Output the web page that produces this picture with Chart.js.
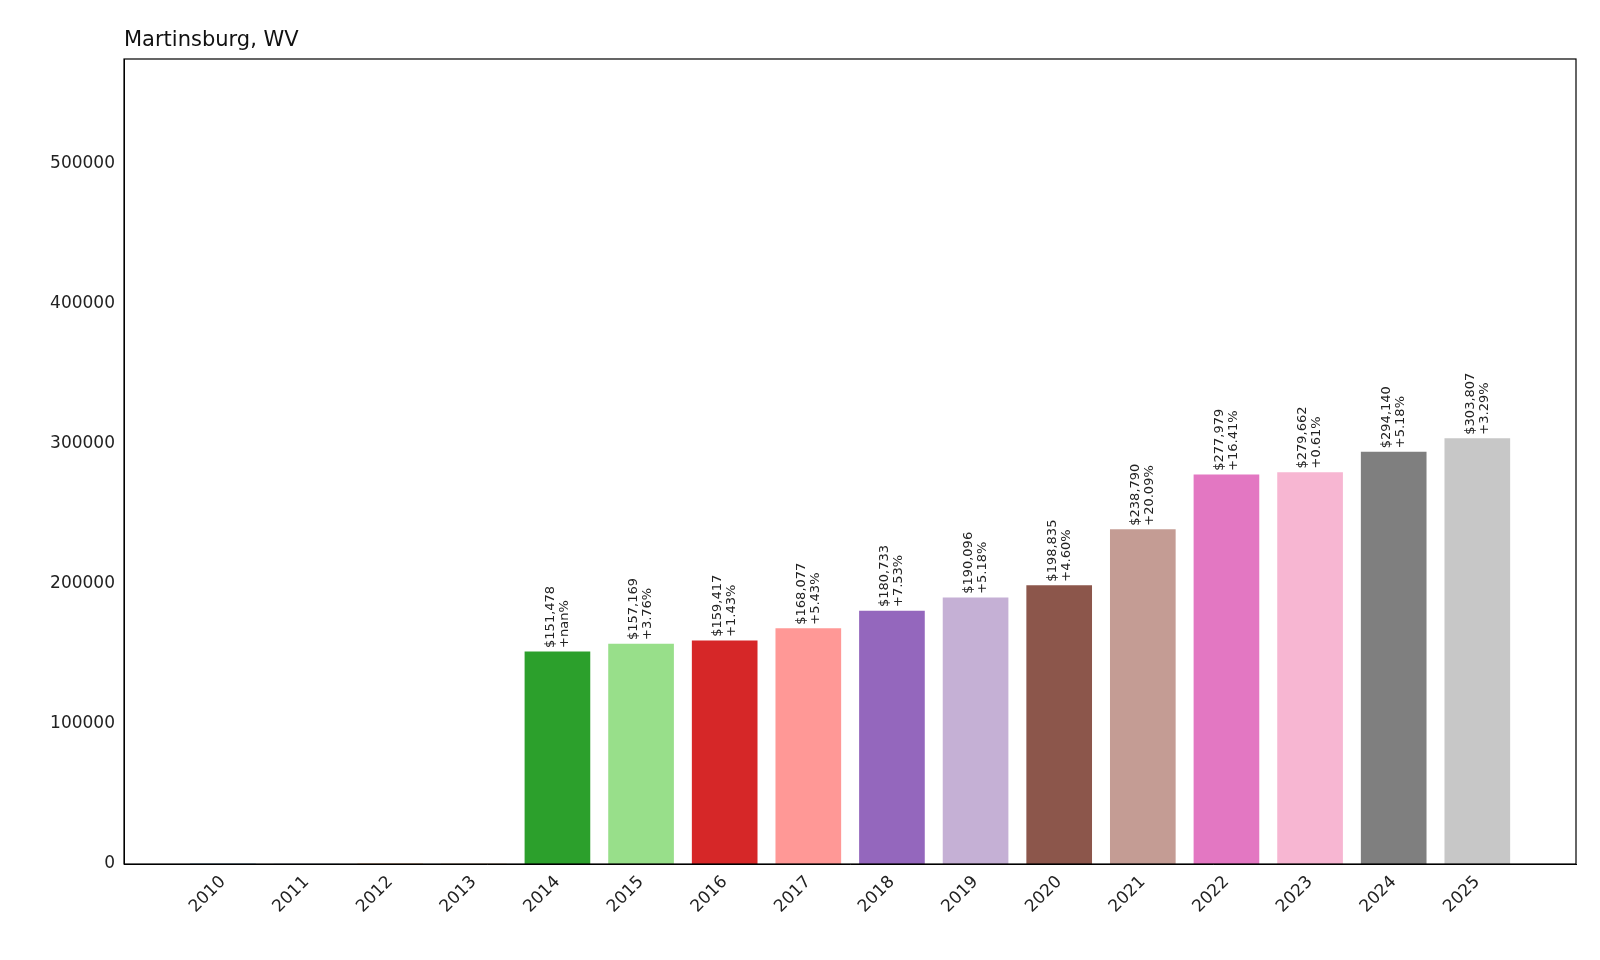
<!DOCTYPE html>
<html><head><meta charset="utf-8">
<script src="https://cdn.jsdelivr.net/npm/chart.js@4"></script>
<style>html,body{margin:0;padding:0;background:#fff}#w{width:1600px;height:960px}</style>
</head><body><div id="w"><canvas id="c"></canvas></div>
<script>
const years = [2010,2011,2012,2013,2014,2015,2016,2017,2018,2019,2020,2021,2022,2023,2024,2025];
const values = [0,0,0,0,151478,157169,159417,168077,180733,190096,198835,238790,277979,279662,294140,303807];
const changes = ["","","","","+nan%","+3.76%","+1.43%","+5.43%","+7.53%","+5.18%","+4.60%","+20.09%","+16.41%","+0.61%","+5.18%","+3.29%"];
const colors = ["#1f77b4","#aec7e8","#ff7f0e","#ffbb78","#2ca02c","#98df8a","#d62728","#ff9896","#9467bd","#c5b0d5","#8c564b","#c49c94","#e377c2","#f7b6d2","#7f7f7f","#c7c7c7"];
const yTicks = [0,100000,200000,300000,400000,500000];
const title = "Martinsburg, WV";
const font = "DejaVu Sans";

const labelPlugin = {
  id:'lbl',
  afterDatasetsDraw(chart){
    const ctx = chart.ctx, meta = chart.getDatasetMeta(0);
    ctx.save();
    ctx.font = "13px '"+font+"'"; ctx.fillStyle="#222";
    meta.data.forEach((bar,i)=>{
      if(!values[i]) return;
      const t1 = "$"+values[i].toLocaleString('en-US');
      ctx.save();
      ctx.translate(bar.x, bar.y-4);
      ctx.rotate(-Math.PI/2);
      ctx.textAlign='left'; ctx.textBaseline='middle';
      ctx.fillText(t1,0,-7);
      ctx.fillText(changes[i],0,7);
      ctx.restore();
    });
    const a = chart.chartArea;
    ctx.strokeStyle="#000"; ctx.lineWidth=1.2;
    ctx.strokeRect(a.left,a.top,a.right-a.left,a.bottom-a.top);
    ctx.font = "21px '"+font+"'"; ctx.fillStyle="#111"; ctx.textBaseline='bottom';
    ctx.fillText(title,a.left,a.top-8);
    ctx.restore();
  }
};

new Chart(document.getElementById('c'),{
  type:'bar',
  data:{datasets:[{data:years.map((y,i)=>({x:y,y:values[i]})),backgroundColor:colors,barThickness:65}]},
  options:{
    responsive:true,maintainAspectRatio:false,animation:false,
    layout:{padding:{top:59,right:24,left:0,bottom:0}},
    plugins:{legend:{display:false},tooltip:{enabled:false}},
    scales:{
      x:{type:'linear',min:2008.817,max:2026.18,offset:false,
        grid:{display:false,drawTicks:true,tickLength:6,color:'#000'},border:{color:'#000'},
        afterBuildTicks(s){s.ticks=years.map(v=>({value:v}));},
        afterFit(s){s.height=96;},
        ticks:{maxRotation:45,minRotation:45,padding:2,color:'#222',font:{family:font,size:17},callback:v=>String(v)}},
      y:{min:0,max:575000,
        grid:{display:false,drawTicks:true,tickLength:6,color:'#000'},border:{color:'#000'},
        afterBuildTicks(s){s.ticks=yTicks.map(v=>({value:v}));},
        afterFit(s){s.width=124;},
        ticks:{color:'#222',font:{family:font,size:17},callback:v=>String(v)}}
    }
  },
  plugins:[labelPlugin]
});
</script></body></html>
